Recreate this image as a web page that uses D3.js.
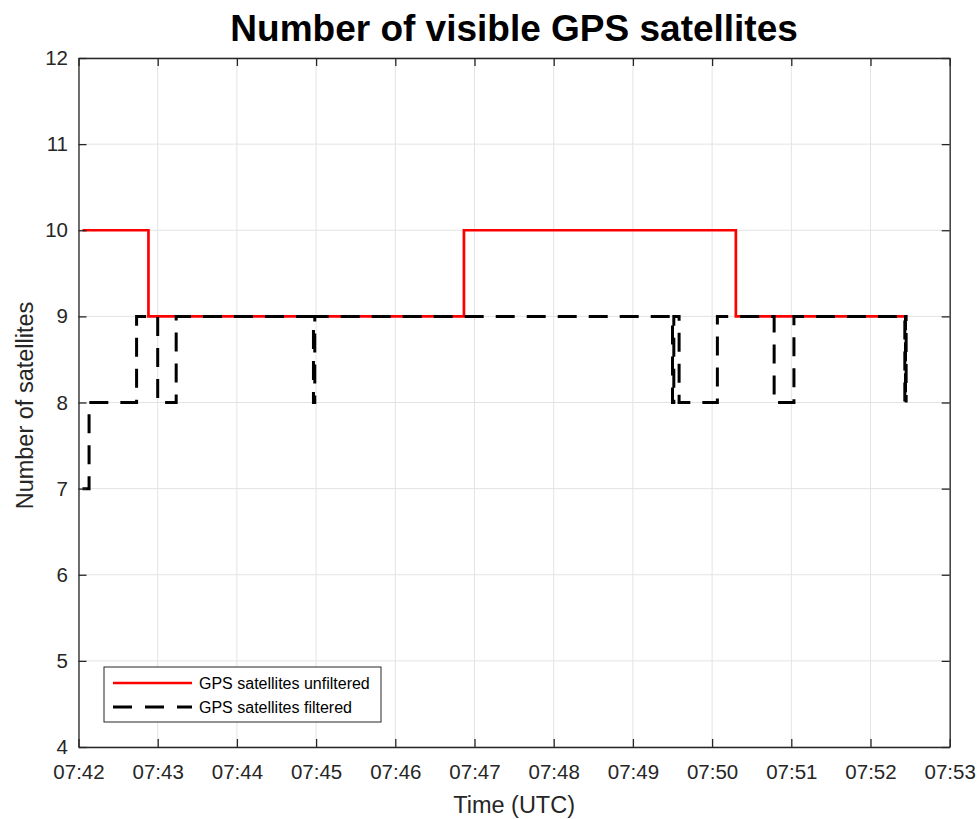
<!DOCTYPE html>
<html>
<head>
<meta charset="utf-8">
<script src="https://cdn.jsdelivr.net/npm/d3@7"></script>
<style>
  html, body { margin: 0; padding: 0; background: #fff; }
  svg { display: block; font-family: "Liberation Sans", Arial, Helvetica, sans-serif; }
</style>
</head>
<body>
<svg id="chart" width="980" height="819"></svg>
<script>
// Unfiltered satellite count: change points (time, count); the last entry marks the end of the record
const unfilteredTimes  = ["07:42:03", "07:42:53", "07:46:52", "07:50:18", "07:52:27"];
const unfilteredCounts = [10, 9, 10, 9, 9];

// Filtered satellite count: change points (time, count)
const filteredTimes  = ["07:42:03", "07:42:08", "07:42:44", "07:43:00", "07:43:14",
                        "07:44:58", "07:44:59", "07:49:30", "07:49:31", "07:49:35",
                        "07:50:04", "07:50:47", "07:51:02", "07:52:26", "07:52:26.5",
                        "07:52:27"];
const filteredCounts = [7, 8, 9, 8, 9,
                        8, 9, 8, 9, 8,
                        9, 8, 9, 8, 9,
                        8];

const xTickLabels = ["07:42", "07:43", "07:44", "07:45", "07:46", "07:47",
                     "07:48", "07:49", "07:50", "07:51", "07:52", "07:53"];
const yTickValues = [4, 5, 6, 7, 8, 9, 10, 11, 12];

const seriesNames = ["GPS satellites unfiltered", "GPS satellites filtered"];

// Convert "HH:MM:SS" to a Date on a fixed day
function parseClock(s) {
  const [h, m, sec] = s.split(":").map(Number);
  const whole = Math.floor(sec || 0);
  const ms = Math.round(((sec || 0) - whole) * 1000);
  return new Date(Date.UTC(2020, 0, 1, h, m, whole, ms));
}

const unfiltered = unfilteredTimes.map((t, i) => ({ t: parseClock(t), v: unfilteredCounts[i] }));
const filtered = filteredTimes.map((t, i) => ({ t: parseClock(t), v: filteredCounts[i] }));
const xTicks = xTickLabels.map(parseClock);

const svg = d3.select("#chart");
const W = 980, H = 819;
const margin = { left: 78.5, right: W - 949.7, top: 58, bottom: H - 747 };
const x0 = margin.left, x1 = W - margin.right, y0 = H - margin.bottom, y1 = margin.top;

const x = d3.scaleUtc().domain([xTicks[0], xTicks[xTicks.length - 1]]).range([x0, x1]);
const y = d3.scaleLinear().domain([4, 12]).range([y0, y1]);

const axisColor = "#262626";

// Grid
const grid = svg.append("g");
grid.selectAll("line.vx").data(xTicks).join("line")
  .attr("x1", d => x(d)).attr("x2", d => x(d))
  .attr("y1", y0).attr("y2", y1)
  .attr("stroke", "#e3e3e3").attr("stroke-width", 1);
grid.selectAll("line.hy").data(yTickValues).join("line")
  .attr("x1", x0).attr("x2", x1)
  .attr("y1", d => y(d)).attr("y2", d => y(d))
  .attr("stroke", "#e3e3e3").attr("stroke-width", 1);

// Series lines
const line = d3.line().x(d => x(d.t)).y(d => y(d.v)).curve(d3.curveStepAfter);

svg.append("path").datum(unfiltered)
  .attr("d", line)
  .attr("fill", "none")
  .attr("stroke", "#ff0000")
  .attr("stroke-width", 2.7);

svg.append("path").datum(filtered)
  .attr("d", line)
  .attr("fill", "none")
  .attr("stroke", "#000")
  .attr("stroke-width", 3)
  .attr("stroke-dasharray", "19,12");

// Axes (ticks pointing inward, box on)
const tickLen = 8;
const fmt = d3.utcFormat("%H:%M");

const xAxis = svg.append("g").attr("transform", `translate(0,${y0})`)
  .call(d3.axisBottom(x).tickValues(xTicks).tickFormat(fmt).tickSizeInner(-tickLen).tickSizeOuter(0).tickPadding(17));
const xTop = svg.append("g").attr("transform", `translate(0,${y1})`)
  .call(d3.axisTop(x).tickValues(xTicks).tickFormat("").tickSizeInner(-tickLen).tickSizeOuter(0));
const yAxis = svg.append("g").attr("transform", `translate(${x0},0)`)
  .call(d3.axisLeft(y).tickValues(yTickValues).tickFormat(d3.format("d")).tickSizeInner(-tickLen).tickSizeOuter(0).tickPadding(10.5));
const yRight = svg.append("g").attr("transform", `translate(${x1},0)`)
  .call(d3.axisRight(y).tickValues(yTickValues).tickFormat("").tickSizeInner(-tickLen).tickSizeOuter(0));

[xAxis, xTop, yAxis, yRight].forEach(g => {
  g.select(".domain").attr("stroke", axisColor).attr("stroke-width", 1.3);
  g.selectAll(".tick line").attr("stroke", axisColor).attr("stroke-width", 1.3);
  g.selectAll(".tick text").attr("fill", axisColor).attr("font-size", 20.5)
    .attr("font-family", "'Liberation Sans', Arial, sans-serif");
});

// Title and axis labels
svg.append("text")
  .attr("x", (x0 + x1) / 2).attr("y", 41)
  .attr("text-anchor", "middle")
  .attr("font-size", 37).attr("font-weight", "bold").attr("fill", "#000")
  .text("Number of visible GPS satellites");

svg.append("text")
  .attr("x", (x0 + x1) / 2).attr("y", 813)
  .attr("text-anchor", "middle")
  .attr("font-size", 23.5).attr("fill", axisColor)
  .text("Time (UTC)");

svg.append("text")
  .attr("transform", `translate(33,${(y0 + y1) / 2 + 3}) rotate(-90)`)
  .attr("text-anchor", "middle")
  .attr("font-size", 23.5).attr("fill", axisColor)
  .text("Number of satellites");

// Legend
const lg = svg.append("g").attr("transform", "translate(104,667)");
lg.append("rect").attr("x", 0).attr("y", 0).attr("width", 277).attr("height", 55)
  .attr("fill", "#fff").attr("stroke", axisColor).attr("stroke-width", 1);
const legendStyles = [
  { stroke: "#ff0000", width: 2.7, dash: null },
  { stroke: "#000", width: 3, dash: "19,13" }
];
seriesNames.forEach((name, i) => {
  const yy = 16 + i * 24;
  lg.append("line").attr("x1", 9).attr("x2", 88).attr("y1", yy).attr("y2", yy)
    .attr("stroke", legendStyles[i].stroke).attr("stroke-width", legendStyles[i].width)
    .attr("stroke-dasharray", legendStyles[i].dash);
  lg.append("text").attr("x", 95).attr("y", yy + 5.5)
    .attr("font-size", 16).attr("fill", "#000").text(name);
});
</script>
</body>
</html>
